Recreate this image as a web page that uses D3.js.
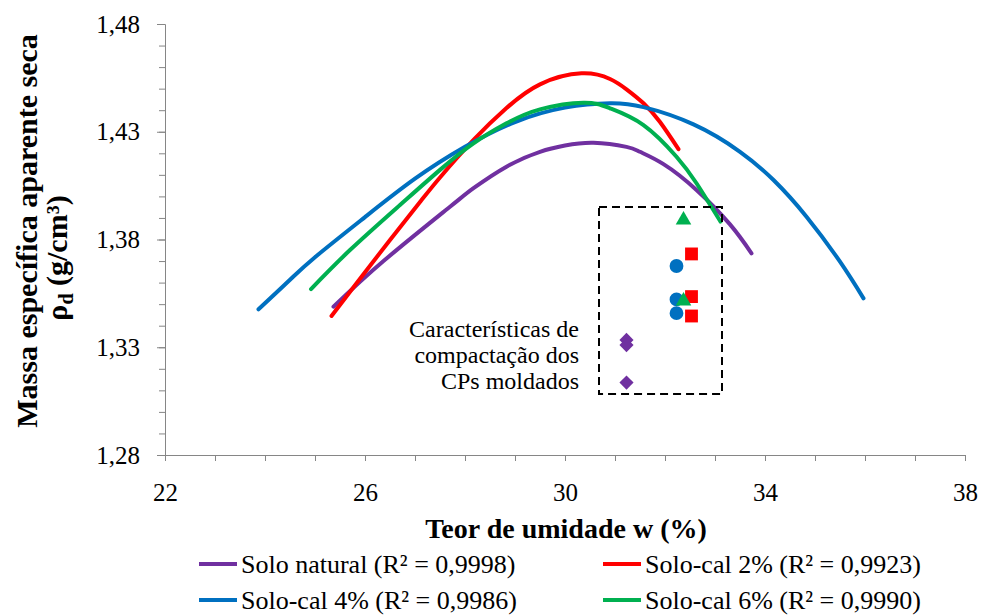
<!DOCTYPE html>
<html>
<head>
<meta charset="utf-8">
<script src="https://cdn.jsdelivr.net/npm/d3@7"></script>
<style>
  body { margin: 0; background: #fff; }
  svg { font-family: "Liberation Serif", "Times New Roman", serif; }
</style>
</head>
<body>
<svg id="chart" width="985" height="615"></svg>
<script>
// Curves (w %, rho_d g/cm3)
var soloNatural = [[25.37,1.3488],[26.37,1.3700],[27.70,1.3952],[28.17,1.4038],[28.83,1.4138],[29.50,1.4207],[30.00,1.4236],[30.57,1.4249],[31.23,1.4230],[31.50,1.4207],[31.97,1.4150],[32.63,1.4030],[33.30,1.3870],[33.73,1.3736]];
var soloCal2 = [[25.33,1.3445],[25.90,1.3618],[26.50,1.3798],[27.10,1.3974],[27.50,1.4088],[28.17,1.4262],[28.83,1.4410],[29.50,1.4520],[30.33,1.4571],[30.90,1.4545],[31.23,1.4497],[31.57,1.4432],[31.90,1.4345],[32.27,1.4219]];
var soloCal4 = [[23.87,1.3476],[24.50,1.3613],[25.00,1.3718],[26.00,1.3904],[27.00,1.4082],[28.00,1.4230],[29.00,1.4345],[30.00,1.4412],[30.90,1.4432],[31.57,1.4414],[32.57,1.4334],[33.50,1.4207],[34.17,1.4076],[34.83,1.3906],[35.50,1.3697],[35.97,1.3527]];
var soloCal6 = [[24.92,1.3570],[25.70,1.3751],[26.70,1.3960],[27.50,1.4123],[28.17,1.4246],[28.83,1.4339],[29.50,1.4404],[30.37,1.4435],[30.90,1.4409],[31.57,1.4331],[32.23,1.4184],[32.63,1.4061],[33.11,1.3883]];

// Specimen points (CPs moldados)
var cpNatural = [[31.23,1.3334],[31.23,1.3310],[31.23,1.3136]];
var cpCal2 = [[32.53,1.3733],[32.53,1.3535],[32.53,1.3445]];
var cpCal4 = [[32.23,1.3677],[32.23,1.3522],[32.23,1.3458]];
var cpCal6 = [[32.37,1.3890],[32.37,1.3515]];

var seriesNames = ["Solo natural (R² = 0,9998)", "Solo-cal 2% (R² = 0,9923)", "Solo-cal 4% (R² = 0,9986)", "Solo-cal 6% (R² = 0,9990)"];
var seriesColors = ["#7030A0", "#FF0000", "#0070C0", "#00B050"];
var xTicks = [22, 26, 30, 34, 38];
var yTicks = [1.28, 1.33, 1.38, 1.43, 1.48];
var boxCorners = [[30.68, 1.3951], [33.14, 1.3083]];
var noteLines = ["Características de", "compactação dos", "CPs moldados"];

var svg = d3.select("#chart");
var x = d3.scaleLinear().domain([22, 38]).range([165, 965]);
var y = d3.scaleLinear().domain([1.28, 1.48]).range([455, 24]);
var comma = function(f) { return function(d) { return d3.format(f)(d).replace(".", ","); }; };

function styleAxis(g) {
  g.select(".domain").attr("stroke", "#868686");
  g.selectAll("line").attr("stroke", "#868686");
  g.selectAll("text").attr("font-size", 25).attr("fill", "#000").attr("font-family", "Liberation Serif");
}

// Axes: minor ticks first, then major ticks with labels
svg.append("g")
  .attr("transform", "translate(0," + y(1.28) + ")")
  .call(d3.axisBottom(x).ticks(16).tickSize(6).tickFormat(""))
  .call(function(g) { g.select(".domain").remove(); g.selectAll("line").attr("stroke", "#868686"); });
svg.append("g")
  .attr("class", "axis axis--x")
  .attr("transform", "translate(0," + y(1.28) + ")")
  .call(d3.axisBottom(x).tickValues(xTicks).tickSize(6).tickPadding(22).tickFormat(d3.format("d")))
  .call(styleAxis);

svg.append("g")
  .attr("transform", "translate(" + x(22) + ",0)")
  .call(d3.axisLeft(y).ticks(20).tickSize(6).tickFormat(""))
  .call(function(g) { g.select(".domain").remove(); g.selectAll("line").attr("stroke", "#868686"); });
svg.append("g")
  .attr("class", "axis axis--y")
  .attr("transform", "translate(" + x(22) + ",0)")
  .call(d3.axisLeft(y).tickValues(yTicks).tickSize(8).tickPadding(17).tickFormat(comma(".2f")))
  .call(styleAxis);

// Axis titles
svg.append("text")
  .attr("x", 566).attr("y", 538)
  .attr("text-anchor", "middle")
  .attr("font-size", 28).attr("font-weight", "bold")
  .text("Teor de umidade w (%)");

svg.append("text")
  .attr("transform", "translate(37,231) rotate(-90)")
  .attr("text-anchor", "middle")
  .attr("font-size", 30).attr("font-weight", "bold")
  .text("Massa específica aparente seca");
var t2 = svg.append("text")
  .attr("transform", "translate(67,258) rotate(-90)")
  .attr("text-anchor", "middle")
  .attr("font-size", 30).attr("font-weight", "bold");
t2.append("tspan").text("ρ");
t2.append("tspan").attr("font-size", 20).attr("dy", 6).text("d");
t2.append("tspan").attr("dy", -6).text(" (g/cm³)");

// Fitted curves
var line = d3.line()
  .x(function(d) { return x(d[0]); })
  .y(function(d) { return y(d[1]); })
  .curve(d3.curveNatural);

[soloNatural, soloCal2, soloCal4, soloCal6].forEach(function(s, i) {
  svg.append("path")
    .datum(s)
    .attr("fill", "none")
    .attr("stroke", seriesColors[i])
    .attr("stroke-width", 4)
    .attr("stroke-linecap", "round")
    .attr("d", line);
});

// Dashed box round the specimens
svg.append("rect")
  .attr("x", x(boxCorners[0][0]))
  .attr("y", y(boxCorners[0][1]))
  .attr("width", x(boxCorners[1][0]) - x(boxCorners[0][0]))
  .attr("height", y(boxCorners[1][1]) - y(boxCorners[0][1]))
  .attr("fill", "none")
  .attr("stroke", "#000")
  .attr("stroke-width", 2)
  .attr("stroke-dasharray", "8,5");

svg.append("g").selectAll("text")
  .data(noteLines)
  .enter().append("text")
    .attr("x", 579)
    .attr("y", function(d, i) { return 337 + i * 26; })
    .attr("text-anchor", "end")
    .attr("font-size", 24)
    .text(function(d) { return d; });

// Specimen markers
var markerSets = [
  {data: cpNatural, type: d3.symbolSquare, size: 100, rot: 45, color: seriesColors[0]},
  {data: cpCal4, type: d3.symbolCircle, size: 150, rot: 0, color: seriesColors[2]},
  {data: cpCal2, type: d3.symbolSquare, size: 165, rot: 0, color: seriesColors[1]},
  {data: cpCal6, type: d3.symbolTriangle, size: 105, rot: 0, color: seriesColors[3]}
];
markerSets.forEach(function(m) {
  svg.append("g").selectAll("path")
    .data(m.data)
    .enter().append("path")
      .attr("transform", function(d) { return "translate(" + x(d[0]) + "," + y(d[1]) + ") rotate(" + m.rot + ")"; })
      .attr("d", d3.symbol().type(m.type).size(m.size))
      .attr("fill", m.color);
});

// Legend
var legendPos = [[199, 564], [603, 564], [199, 600], [603, 600]];
var legend = svg.append("g").selectAll("g")
  .data(seriesNames)
  .enter().append("g")
    .attr("transform", function(d, i) { return "translate(" + legendPos[i][0] + "," + legendPos[i][1] + ")"; });
legend.append("line")
  .attr("x1", 0).attr("x2", 38)
  .attr("stroke", function(d, i) { return seriesColors[i]; })
  .attr("stroke-width", 4);
legend.append("text")
  .attr("x", 42).attr("dy", "0.34em")
  .attr("font-size", 26)
  .text(function(d) { return d; });
</script>
</body>
</html>
